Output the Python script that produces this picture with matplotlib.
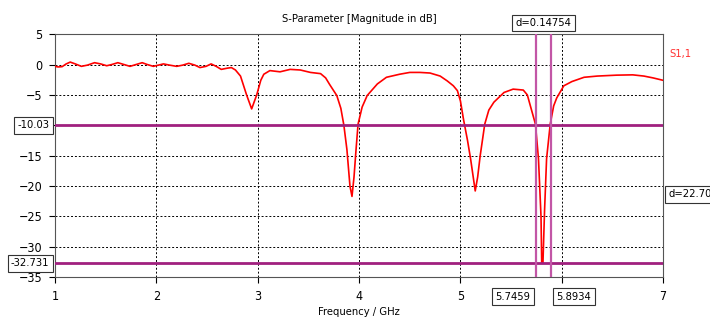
import matplotlib.pyplot as plt

plt.rcParams['font.family'] = ['DejaVu Sans']
plt.rcParams['font.stretch'] = 'condensed'

# S1,1 (GHz, dB)
freq = [1.0, 1.03, 1.07, 1.11, 1.15, 1.20, 1.26, 1.32, 1.39, 1.45, 1.51, 1.56, 1.62, 1.68,
        1.74, 1.80, 1.86, 1.91, 1.97, 2.02, 2.07, 2.13, 2.20, 2.26, 2.32, 2.38, 2.43, 2.49,
        2.54, 2.59, 2.64, 2.70, 2.74, 2.78, 2.83, 2.89, 2.94, 2.99, 3.03, 3.06, 3.12, 3.22,
        3.32, 3.42, 3.52, 3.62, 3.67, 3.71, 3.78, 3.82, 3.85, 3.88, 3.91, 3.93, 3.95, 3.97,
        3.99, 4.03, 4.08, 4.18, 4.27, 4.40, 4.50, 4.60, 4.70, 4.80, 4.87, 4.93, 4.97, 5.00,
        5.03, 5.07, 5.10, 5.146, 5.17, 5.195, 5.24, 5.28, 5.33, 5.43, 5.52, 5.62, 5.66, 5.69,
        5.74, 5.77, 5.795, 5.802, 5.814, 5.83, 5.85, 5.886, 5.92, 5.95, 6.02, 6.10, 6.22,
        6.35, 6.54, 6.70, 6.81, 6.90, 7.0]
s11 = [-0.3, -0.4, -0.35, 0.1, 0.4, 0.1, -0.3, -0.1, 0.3, 0.1, -0.2, 0.0, 0.3, 0.0,
       -0.3, 0.0, 0.3, 0.0, -0.3, -0.1, 0.1, -0.1, -0.3, -0.1, 0.2, -0.1, -0.5, -0.3,
       0.1, -0.3, -0.8, -0.6, -0.5, -0.9, -1.9, -5.0, -7.3, -5.0, -2.6, -1.6, -1.0, -1.2,
       -0.8, -0.9, -1.3, -1.5, -2.2, -3.3, -5.1, -7.2, -10.0, -14.0, -20.0, -21.7, -18.5, -14.0,
       -9.8, -7.0, -5.1, -3.2, -2.1, -1.6, -1.3, -1.3, -1.4, -1.9, -2.7, -3.5, -4.3, -6.0,
       -9.0, -12.5, -15.5, -20.8, -18.5, -15.0, -9.8, -7.5, -6.2, -4.6, -4.05, -4.2, -5.0, -6.8,
       -9.8, -15.5, -25.0, -32.7, -32.7, -24.0, -15.5, -9.8, -6.8, -5.5, -3.5, -2.8, -2.1,
       -1.9, -1.75, -1.7, -1.9, -2.2, -2.6]

x_ticks = [1, 2, 3, 4, 5, 6, 7]
x_tick_labels = ['1', '2', '3', '4', '5', '', '7']
y_ticks = [5, 0, -5, -10, -15, -20, -25, -30, -35]

h_markers = [-10.03, -32.731]
h_labels = ['-10.03', '-32.731']
v_markers = [5.7459, 5.8934]
v_labels = ['5.7459', '5.8934']
dx_label = 'd=0.14754'
dy_label = 'd=22.701'

fs = 8

fig = plt.figure(figsize=(7.1, 3.22), dpi=100)
ax = fig.add_axes([0.0775, 0.139, 0.8565, 0.755])

ax.plot(freq, s11, color='#ff0000', lw=1.2, zorder=3)

for y in h_markers:
    ax.axhline(y, color='#a0207f', lw=2, zorder=4)
for x in v_markers:
    ax.axvline(x, color='#c256a6', lw=1.6, zorder=4)

ax.set_xlim(1, 7)
ax.set_ylim(-35, 5)
ax.set_xticks(x_ticks)
ax.set_xticklabels(x_tick_labels)
ax.set_yticks(y_ticks)
ax.grid(True, color='black', linestyle=(0, (2, 2)), lw=0.7)
ax.tick_params(labelsize=fs + 1, length=4, width=0.8, color='black', pad=5)
for sp in ax.spines.values():
    sp.set_color('#555555')
    sp.set_linewidth(0.8)

ax.set_xlabel('Frequency / GHz', fontsize=fs, labelpad=3)
ax.set_title('S-Parameter [Magnitude in dB]', fontsize=fs, pad=9)
ax.text(1.01, 0.92, 'S1,1', transform=ax.transAxes, color='#ff3030', fontsize=fs,
        ha='left', va='center')

box = dict(boxstyle='square,pad=0.3', fc='white', ec='#333333', lw=0.8)

# marker value boxes
for y, lab in zip(h_markers, h_labels):
    ax.annotate(lab, xy=(0, y), xycoords=('axes fraction', 'data'), xytext=(-4, 0),
                textcoords='offset points', ha='right', va='center', fontsize=fs, bbox=box,
                annotation_clip=False)
ax.annotate(v_labels[0], xy=(v_markers[0], 0), xycoords=('data', 'axes fraction'),
            xytext=(-4, -14), textcoords='offset points', ha='right', va='center',
            fontsize=fs, bbox=box, annotation_clip=False)
ax.annotate(v_labels[1], xy=(v_markers[1], 0), xycoords=('data', 'axes fraction'),
            xytext=(4, -14), textcoords='offset points', ha='left', va='center',
            fontsize=fs, bbox=box, annotation_clip=False)
ax.annotate(dx_label, xy=(sum(v_markers) / 2, 1), xycoords=('data', 'axes fraction'),
            xytext=(0, 8), textcoords='offset points', ha='center', va='center',
            fontsize=fs, bbox=box, annotation_clip=False)
ax.annotate(dy_label, xy=(1, sum(h_markers) / 2), xycoords=('axes fraction', 'data'),
            xytext=(4, 0), textcoords='offset points', ha='left', va='center',
            fontsize=fs, bbox=box, annotation_clip=False)

fig.savefig('out.png', dpi=100)
